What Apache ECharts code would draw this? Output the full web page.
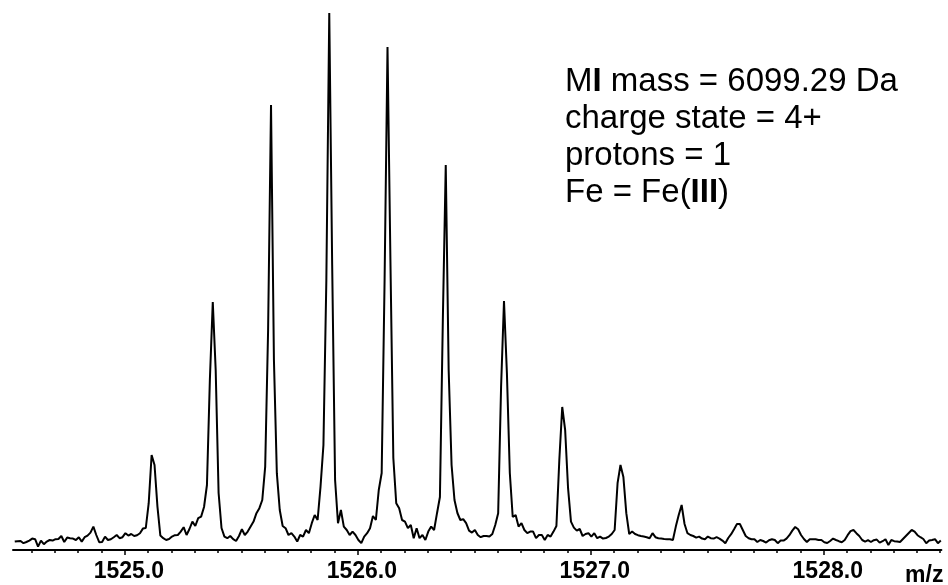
<!DOCTYPE html>
<html>
<head>
<meta charset="utf-8">
<script src="https://cdn.jsdelivr.net/npm/echarts@6/dist/echarts.min.js"></script>
<style>
  html, body { margin: 0; padding: 0; background: #fff; }
  #chart { width: 948px; height: 585px; }
</style>
</head>
<body>
<div id="chart"></div>
<script>
// m/z sampling of the spectrum (uniform instrument step)
const mzStart = 1524.5275;
const mzStep = 0.0125;

// intensity (arb. units) at each sampling point
const intensity = [
  42, 44, 45, 34, 40, 47, 57, 54, 17, 47,
  29, 42, 50, 47, 54, 55, 70, 40, 62, 59,
  57, 50, 64, 42, 64, 72, 87, 117, 75, 39,
  40, 67, 50, 54, 64, 75, 59, 64, 84, 72,
  80, 70, 74, 84, 107, 110, 234, 475, 425, 217,
  72, 59, 50, 55, 67, 74, 75, 92, 114, 75,
  105, 142, 120, 159, 167, 215, 325, 850, 1240, 900,
  285, 110, 67, 59, 70, 54, 45, 70, 104, 75,
  92, 117, 142, 184, 209, 250, 417, 1100, 2225, 950,
  384, 200, 120, 109, 75, 84, 67, 42, 75, 67,
  100, 84, 134, 175, 150, 317, 525, 1350, 2685, 1425,
  350, 134, 200, 117, 100, 75, 92, 75, 50, 34,
  67, 84, 109, 170, 150, 300, 385, 1350, 2515, 1450,
  460, 234, 209, 150, 142, 109, 125, 59, 109, 59,
  75, 50, 92, 117, 100, 184, 265, 1150, 1925, 900,
  425, 250, 185, 150, 154, 134, 97, 87, 100, 75,
  64, 70, 70, 67, 80, 125, 184, 815, 1245, 885,
  385, 165, 175, 117, 134, 100, 84, 92, 92, 59,
  75, 75, 50, 75, 67, 92, 120, 450, 715, 600,
  309, 142, 112, 97, 105, 70, 80, 84, 67, 84,
  59, 67, 57, 60, 67, 80, 100, 334, 425, 365,
  184, 80, 92, 80, 74, 70, 67, 64, 59, 84,
  64, 59, 57, 55, 54, 54, 50, 117, 175, 225,
  130, 84, 75, 70, 62, 67, 57, 54, 67, 59,
  57, 64, 57, 47, 34, 60, 79, 104, 130, 130,
  100, 70, 59, 54, 54, 40, 50, 45, 37, 49,
  54, 50, 34, 47, 47, 57, 74, 97, 115, 104,
  75, 55, 40, 54, 54, 54, 50, 50, 39, 35,
  45, 57, 50, 44, 39, 50, 74, 94, 100, 84,
  70, 50, 42, 49, 40, 49, 52, 37, 44, 54,
  25, 50, 44, 42, 40, 55, 70, 85, 100, 92,
  74, 64, 55, 34, 47, 50, 54, 34, 47
];

// axis tick labels
const majorTicks = [1525, 1526, 1527, 1528];
const minorTicks = [];
for (let k = 15246; k <= 15285; k++) {
  if (k % 10 !== 0) minorTicks.push(k / 10);
}

const annotationLines = [
  '{n|M}{b|I}{n| mass = 6099.29 Da}',
  '{n|charge state = 4+}',
  '{n|protons = 1}',
  '{n|Fe = Fe(}{b|III}{n|)}'
];

const seriesData = intensity.map((v, i) => [mzStart + i * mzStep, v]);

const FONT = '"Liberation Sans", Arial, Helvetica, sans-serif';
const xMin = 1524.52, xMax = 1528.505;

const chart = echarts.init(document.getElementById('chart'), null, { renderer: 'canvas' });
chart.setOption({
  animation: false,
  backgroundColor: '#ffffff',
  grid: { left: 13, right: 6.6, top: 10, bottom: 35, containLabel: false, outerBoundsMode: 'none' },
  xAxis: [
    {
      type: 'value', min: xMin, max: xMax, position: 'bottom',
      axisLine: { show: true, lineStyle: { color: '#000', width: 2 } },
      axisTick: { show: true, customValues: minorTicks, length: 3, lineStyle: { color: '#000', width: 1.5 } },
      axisLabel: { show: false },
      splitLine: { show: false }
    },
    {
      type: 'value', min: xMin, max: xMax, position: 'bottom',
      axisLine: { show: false },
      axisTick: { show: true, customValues: majorTicks, length: 5, lineStyle: { color: '#000', width: 1.5 } },
      axisLabel: {
        show: true, customValues: majorTicks, formatter: v => Number(v).toFixed(1),
        color: '#000', fontFamily: FONT, fontSize: 23, fontWeight: 'bold', margin: 10,
        padding: [0, 0, 0, 8]
      },
      splitLine: { show: false },
      name: 'm/z', nameLocation: 'end', nameGap: 2,
      nameTextStyle: { color: '#000', fontFamily: FONT, fontSize: 23, fontWeight: 'bold', align: 'right', verticalAlign: 'top', padding: [14, 0, 0, 0] }
    }
  ],
  yAxis: { type: 'value', min: 0, max: 2700, show: false },
  series: [{
    type: 'line', xAxisIndex: 0, data: seriesData, showSymbol: false, symbol: 'none',
    lineStyle: { color: '#000', width: 2 }, silent: true
  }],
  graphic: [{
    type: 'text', left: 565, top: 65,
    style: {
      text: annotationLines.join('\n'),
      rich: {
        n: { fontFamily: FONT, fontSize: 33, lineHeight: 37, fill: '#000', fontWeight: 'normal' },
        b: { fontFamily: FONT, fontSize: 33, lineHeight: 37, fill: '#000', fontWeight: 'bold' }
      }
    }
  }]
});
</script>
</body>
</html>
